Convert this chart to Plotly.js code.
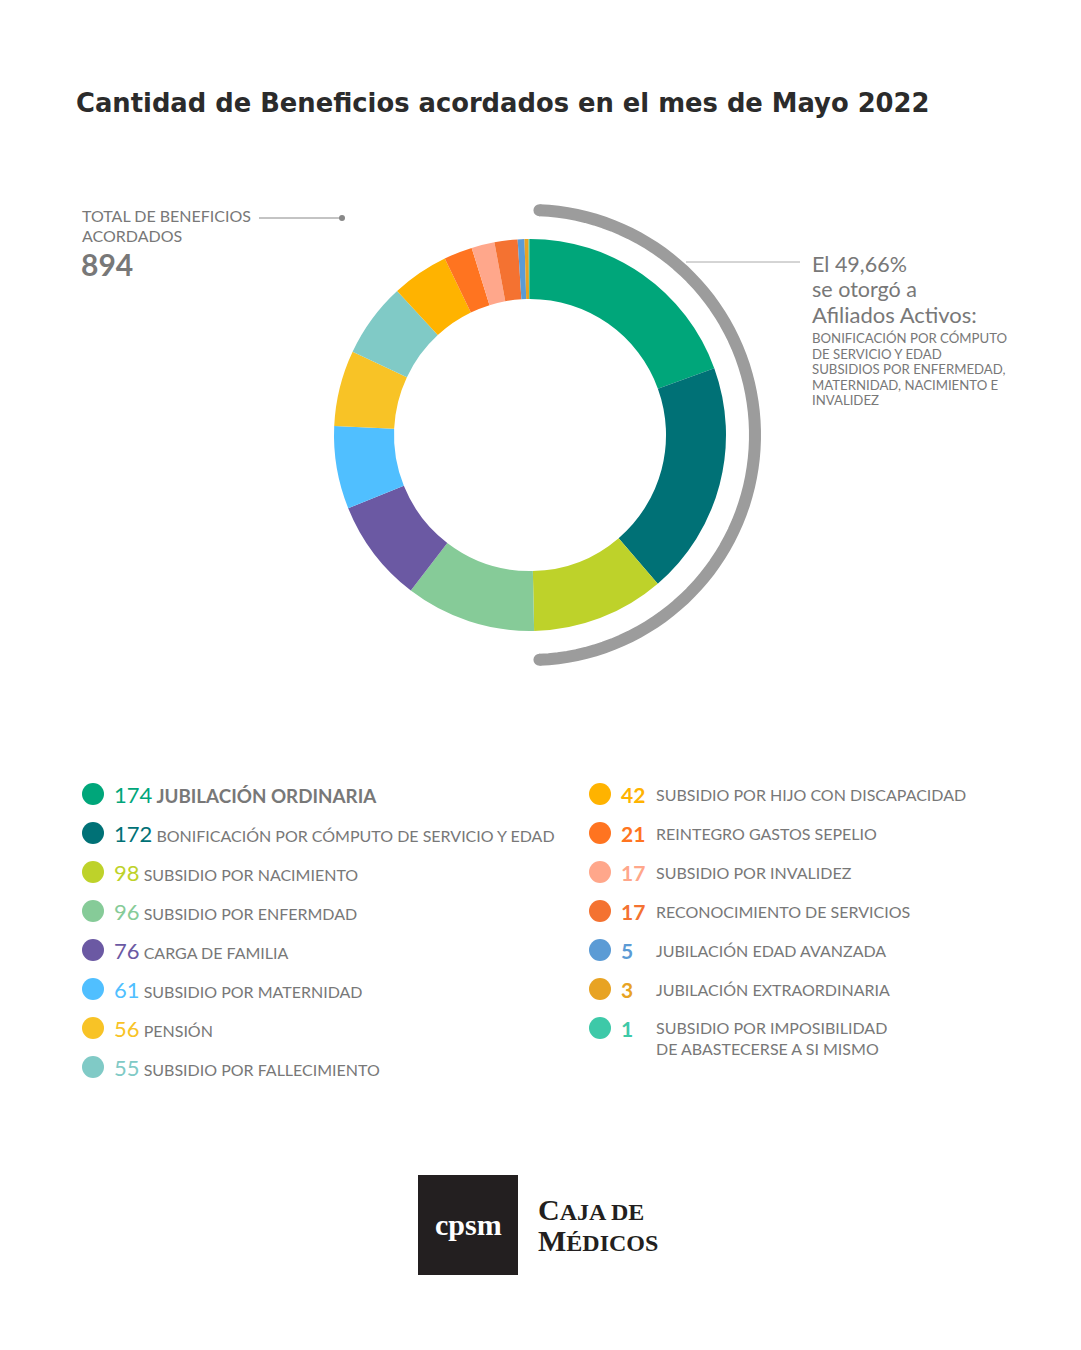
<!DOCTYPE html>
<html>
<head>
<meta charset="utf-8">
<script src="https://cdn.plot.ly/plotly-3.0.1.min.js"></script>
<style>
  html, body { margin: 0; padding: 0; background: #fff; }
  #chart { width: 1081px; height: 1350px; }
</style>
</head>
<body>
<div id="chart"></div>
<script>
// data
var labels = [
  'JUBILACIÓN ORDINARIA',
  'BONIFICACIÓN POR CÓMPUTO DE SERVICIO Y EDAD',
  'SUBSIDIO POR NACIMIENTO',
  'SUBSIDIO POR ENFERMDAD',
  'CARGA DE FAMILIA',
  'SUBSIDIO POR MATERNIDAD',
  'PENSIÓN',
  'SUBSIDIO POR FALLECIMIENTO',
  'SUBSIDIO POR HIJO CON DISCAPACIDAD',
  'REINTEGRO GASTOS SEPELIO',
  'SUBSIDIO POR INVALIDEZ',
  'RECONOCIMIENTO DE SERVICIOS',
  'JUBILACIÓN EDAD AVANZADA',
  'JUBILACIÓN EXTRAORDINARIA',
  'SUBSIDIO POR IMPOSIBILIDAD<br>DE ABASTECERSE A SI MISMO'
];
var values = [174, 172, 98, 96, 76, 61, 56, 55, 42, 21, 17, 17, 5, 3, 1];
var colors = ['#00a67a', '#007176', '#bed22a', '#86cb98', '#6b59a3', '#50bfff', '#f8c326', '#80cac6',
              '#ffb300', '#ff7420', '#ffa78b', '#f47231', '#5b9bd5', '#e8a323', '#3dc9a8'];
var total = 894;
var activosPct = '49,66%';

var W = 1081, H = 1350;
var cx = 530, cy = 435, R = 196;
var grey = '#787878';
var font = 'Lato, "Open Sans", sans-serif';

var pie = {
  type: 'pie',
  values: values,
  labels: labels.map(function (l) { return l.replace('<br>', ' '); }),
  marker: { colors: colors, line: { width: 0 } },
  sort: false,
  direction: 'clockwise',
  rotation: 0,
  hole: 0.694,
  textinfo: 'none',
  hoverinfo: 'label+value',
  showlegend: false,
  domain: { x: [(cx - R) / W, (cx + R) / W], y: [1 - (cy + R) / H, 1 - (cy - R) / H] }
};

var shapes = [];
var annotations = [];

// grey arc around the right half
var arcR = 225, a0 = 2.4, a1 = 177.6, pts = [];
for (var d = a0; d <= a1 + 0.001; d += 2.4) {
  var t = d * Math.PI / 180;
  pts.push((cx + arcR * Math.sin(t)).toFixed(2) + ',' + (cy - arcR * Math.cos(t)).toFixed(2));
}
shapes.push({ type: 'path', xref: 'x', yref: 'y', path: 'M' + pts.join(' L'), line: { color: '#9c9c9c', width: 12 } });
[a0, a1].forEach(function (d) {
  var t = d * Math.PI / 180, ex = cx + arcR * Math.sin(t), ey = cy - arcR * Math.cos(t);
  shapes.push({ type: 'circle', xref: 'x', yref: 'y', x0: ex - 6, x1: ex + 6, y0: ey - 6, y1: ey + 6,
    fillcolor: '#9c9c9c', line: { width: 0 } });
});
// connector lines
shapes.push({ type: 'line', xref: 'x', yref: 'y', x0: 686, x1: 800, y0: 262, y1: 262, line: { color: '#aaaaaa', width: 1 } });
shapes.push({ type: 'line', xref: 'x', yref: 'y', x0: 259, x1: 342, y0: 218, y1: 218, line: { color: '#888888', width: 1 } });
shapes.push({ type: 'circle', xref: 'x', yref: 'y', x0: 339, x1: 345, y0: 215, y1: 221, fillcolor: '#888888', line: { width: 0 } });

function txt(x, y, text, size, color, family) {
  annotations.push({ xref: 'x', yref: 'y', x: x, y: y, text: text, showarrow: false, xanchor: 'left', yanchor: 'middle',
    align: 'left', font: { family: family || font, size: size, color: color } });
}

// title
txt(74, 103, '<b>Cantidad de Beneficios acordados en el mes de Mayo 2022</b>', 25.8, '#2b2b2b', '"DejaVu Sans", sans-serif');

// total block
txt(80, 215, 'TOTAL DE BENEFICIOS', 16, grey);
txt(80, 235, 'ACORDADOS', 16, grey);
txt(79, 264, '<b>' + total + '</b>', 30, grey);

// right note
txt(810, 264, 'El ' + activosPct, 21.5, grey);
txt(810, 289, 'se otorgó a', 21.5, grey);
txt(810, 314, 'Afiliados Activos:', 22, grey);
['BONIFICACIÓN POR CÓMPUTO', 'DE SERVICIO Y EDAD', 'SUBSIDIOS POR ENFERMEDAD,',
 'MATERNIDAD, NACIMIENTO E', 'INVALIDEZ'].forEach(function (s, i) {
  txt(810, 338 + i * 15.6, s, 13.2, grey);
});

// legend
for (var i = 0; i < values.length; i++) {
  var left = i < 8, row = left ? i : i - 8;
  var y = 794 + row * 39;
  var dx = left ? 93 : 600;
  shapes.push({ type: 'circle', xref: 'x', yref: 'y', x0: dx - 11, x1: dx + 11, y0: y - 11, y1: y + 11,
    fillcolor: colors[i], line: { width: 0 } });
  if (left) {
    var lab = i === 0 ? '<b>' + labels[i] + '</b>' : labels[i];
    var lsize = i === 0 ? 18.8 : 16;
    txt(112, y, '<span style="color:' + colors[i] + ';font-size:22px">' + values[i] + '</span> ' +
      '<span style="font-size:' + lsize + 'px">' + lab + '</span>', 16, grey);
  } else {
    txt(619, y, '<b>' + values[i] + '</b>', 21, colors[i]);
    if (labels[i].indexOf('<br>') > 0) {
      txt(654, y + 10, labels[i], 16, grey);
    } else {
      txt(654, y, labels[i], 16, grey);
    }
  }
}

// logo
shapes.push({ type: 'rect', xref: 'x', yref: 'y', x0: 418, x1: 518, y0: 1175, y1: 1275, fillcolor: '#231f20', line: { width: 0 } });
annotations.push({ xref: 'x', yref: 'y', x: 468, y: 1224, text: '<b>cpsm</b>', showarrow: false,
  xanchor: 'center', yanchor: 'middle', font: { family: '"Liberation Serif", serif', size: 30, color: '#ffffff' } });
txt(536, 1209, '<b><span style="font-size:30px">C</span>AJA DE</b>', 24, '#231f20', '"Liberation Serif", serif');
txt(536, 1240, '<b><span style="font-size:30px">M</span>ÉDICOS</b>', 24, '#231f20', '"Liberation Serif", serif');

var layout = {
  width: W, height: H,
  margin: { l: 0, r: 0, t: 0, b: 0 },
  paper_bgcolor: '#ffffff', plot_bgcolor: 'rgba(0,0,0,0)',
  xaxis: { range: [0, W], visible: false, fixedrange: true },
  yaxis: { range: [H, 0], visible: false, fixedrange: true },
  showlegend: false,
  shapes: shapes,
  annotations: annotations
};

Plotly.newPlot('chart', [pie], layout, { displayModeBar: false, staticPlot: true });
</script>
</body>
</html>
